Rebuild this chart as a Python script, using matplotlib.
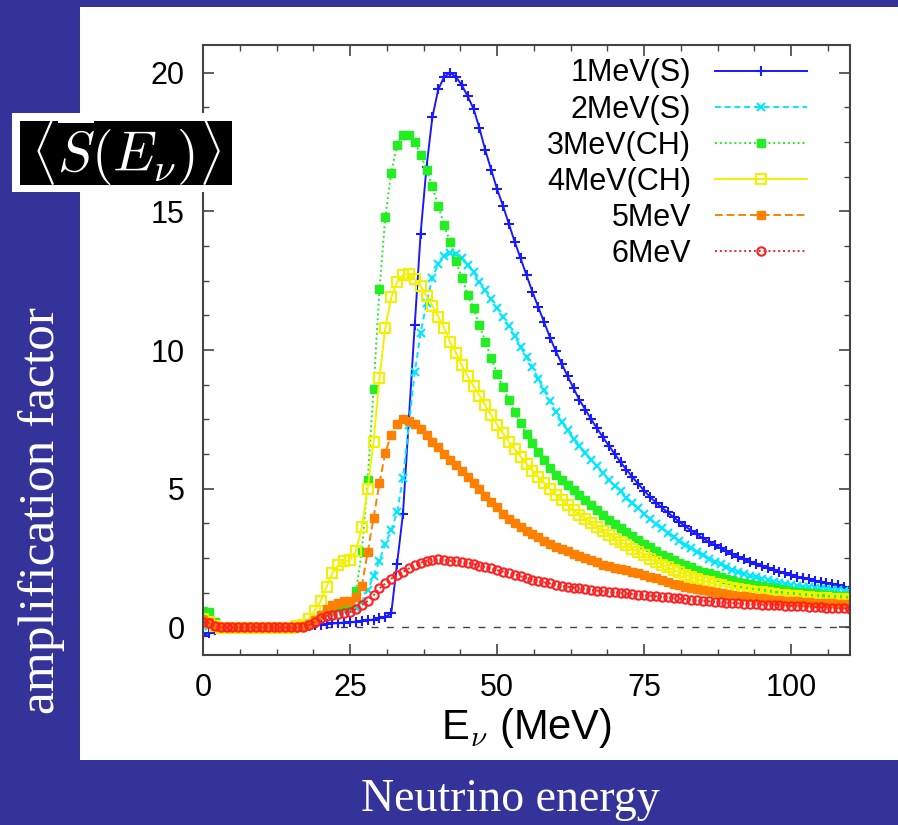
import numpy as np
import matplotlib
matplotlib.use("Agg")
import matplotlib.pyplot as plt
from matplotlib.patches import Rectangle
from matplotlib.ticker import MultipleLocator

# --- data (step 1 MeV, 0..110 MeV) ---
energy = np.arange(0, 111)

s_1mev = [-0.3, -0.2, -0.1, -0.05, -0.04, -0.03, -0.03, -0.03, -0.03, -0.03,
          -0.03, -0.03, -0.03, -0.03, -0.03, -0.02, -0.01, 0.0, 0.05, 0.08,
          0.1, 0.12, 0.14, 0.15, 0.17, 0.18, 0.2, 0.22, 0.25, 0.28,
          0.32, 0.38, 0.5, 2.3, 4.1, 7.5, 10.9, 14.2, 16.6, 18.4,
          19.4, 19.85, 20.0, 19.85, 19.55, 19.15, 18.7, 18.0, 17.2, 16.5,
          15.8, 15.2, 14.55, 13.9, 13.3, 12.7, 12.1, 11.55, 11.0, 10.45,
          9.95, 9.5, 9.05, 8.62, 8.2, 7.85, 7.5, 7.17, 6.85, 6.55,
          6.25, 5.95, 5.68, 5.42, 5.17, 4.93, 4.7, 4.5, 4.32, 4.14,
          3.97, 3.8, 3.64, 3.49, 3.35, 3.21, 3.08, 2.96, 2.85, 2.74,
          2.64, 2.54, 2.45, 2.36, 2.28, 2.2, 2.13, 2.06, 2.0, 1.94,
          1.88, 1.83, 1.78, 1.73, 1.68, 1.63, 1.59, 1.55, 1.51, 1.47, 1.43]

s_2mev = [0.1, 0.05, 0.0, -0.02, -0.02, -0.02, -0.02, -0.02, -0.02, -0.02,
          -0.02, -0.02, -0.02, -0.02, -0.02, -0.01, 0.0, 0.05, 0.15, 0.3,
          0.42, 0.5, 0.55, 0.58, 0.6, 0.62, 0.7, 0.9, 1.35, 1.85,
          2.4, 3.0, 3.5, 4.15, 5.4, 7.3, 9.2, 10.6, 11.7, 12.6,
          13.1, 13.4, 13.5, 13.45, 13.3, 13.05, 12.8, 12.45, 12.15, 11.85,
          11.5, 11.2, 10.85, 10.5, 10.1, 9.75, 9.4, 8.95, 8.55, 8.15,
          7.75, 7.4, 7.1, 6.8, 6.55, 6.3, 6.05, 5.8, 5.55, 5.32,
          5.1, 4.9, 4.68, 4.48, 4.3, 4.1, 3.92, 3.74, 3.57, 3.41,
          3.26, 3.12, 2.98, 2.85, 2.72, 2.6, 2.48, 2.37, 2.27, 2.17,
          2.08, 2.0, 1.93, 1.86, 1.8, 1.74, 1.69, 1.64, 1.6, 1.56,
          1.53, 1.5, 1.47, 1.44, 1.41, 1.39, 1.37, 1.35, 1.33, 1.31, 1.29]

s_3mev = [0.6, 0.55, 0.2, 0.0, -0.02, -0.02, -0.02, -0.02, -0.02, -0.02,
          -0.02, -0.02, -0.02, -0.02, -0.02, -0.01, 0.0, 0.05, 0.15, 0.3,
          0.45, 0.58, 0.66, 0.72, 0.76, 0.8, 1.3, 2.7, 5.3, 8.6,
          12.2, 14.8, 16.4, 17.4, 17.75, 17.75, 17.5, 17.05, 16.5, 15.9,
          15.2, 14.5, 13.9, 13.2, 12.6, 12.0, 11.5, 10.9, 10.3, 9.7,
          9.15, 8.65, 8.2, 7.75, 7.35, 6.98, 6.65, 6.32, 6.02, 5.75,
          5.5, 5.3, 5.12, 4.94, 4.76, 4.58, 4.4, 4.22, 4.05, 3.88,
          3.72, 3.57, 3.42, 3.28, 3.15, 3.02, 2.88, 2.75, 2.62, 2.52,
          2.42, 2.33, 2.24, 2.16, 2.08, 2.01, 1.94, 1.87, 1.81, 1.75,
          1.7, 1.65, 1.6, 1.56, 1.52, 1.48, 1.44, 1.41, 1.38, 1.35,
          1.32, 1.29, 1.27, 1.24, 1.22, 1.2, 1.18, 1.16, 1.14, 1.13, 1.11]

s_4mev = [0.3, 0.2, 0.05, -0.03, -0.03, -0.03, -0.03, -0.03, -0.03, -0.03,
          -0.03, -0.03, -0.03, -0.03, -0.03, -0.01, 0.03, 0.1, 0.3, 0.6,
          0.95, 1.45, 1.95, 2.25, 2.38, 2.42, 2.75, 3.6, 5.0, 6.7,
          9.0, 10.8, 11.9, 12.45, 12.7, 12.75, 12.55, 12.3, 11.95, 11.6,
          11.2, 10.8, 10.3, 9.9, 9.45, 9.05, 8.7, 8.35, 8.0, 7.65,
          7.3, 7.0, 6.7, 6.42, 6.15, 5.9, 5.65, 5.42, 5.2, 4.98,
          4.78, 4.58, 4.4, 4.22, 4.06, 3.9, 3.75, 3.6, 3.46, 3.33,
          3.2, 3.08, 2.96, 2.84, 2.72, 2.6, 2.48, 2.37, 2.26, 2.16,
          2.07, 1.98, 1.9, 1.82, 1.75, 1.68, 1.62, 1.57, 1.52, 1.47,
          1.43, 1.39, 1.35, 1.32, 1.29, 1.26, 1.23, 1.2, 1.18, 1.16,
          1.14, 1.12, 1.1, 1.08, 1.06, 1.05, 1.04, 1.03, 1.02, 1.01, 1.0]

s_5mev = [0.25, 0.2, 0.05, 0.0, 0.0, 0.0, 0.0, 0.0, 0.0, 0.0,
          0.0, 0.0, 0.0, 0.0, 0.0, 0.0, 0.01, 0.05, 0.12, 0.25,
          0.45, 0.65, 0.8, 0.88, 0.93, 0.95, 1.1, 1.5, 2.7, 3.95,
          5.2, 6.3, 6.95, 7.33, 7.5, 7.45, 7.33, 7.15, 6.92, 6.7,
          6.5, 6.25, 6.05, 5.85, 5.65, 5.42, 5.2, 4.98, 4.75, 4.53,
          4.32, 4.1, 3.9, 3.75, 3.62, 3.49, 3.36, 3.24, 3.12, 3.01,
          2.91, 2.82, 2.74, 2.66, 2.58, 2.5, 2.42, 2.34, 2.26, 2.2,
          2.15, 2.1, 2.05, 2.0, 1.95, 1.9, 1.83, 1.76, 1.69, 1.63,
          1.57, 1.52, 1.47, 1.42, 1.38, 1.34, 1.3, 1.26, 1.23, 1.2,
          1.17, 1.14, 1.11, 1.08, 1.06, 1.04, 1.02, 1.0, 0.98, 0.96,
          0.95, 0.93, 0.92, 0.9, 0.89, 0.88, 0.87, 0.86, 0.85, 0.84, 0.83]

s_6mev = [0.2, 0.15, 0.05, 0.0, 0.0, 0.0, 0.0, 0.0, 0.0, 0.0,
          0.0, 0.0, 0.0, 0.0, 0.0, 0.0, 0.0, 0.02, 0.08, 0.2,
          0.35, 0.42, 0.46, 0.48, 0.5, 0.55, 0.65, 0.8, 0.95, 1.15,
          1.4, 1.58, 1.75, 1.87, 2.0, 2.12, 2.24, 2.33, 2.4, 2.44,
          2.45, 2.42, 2.4, 2.38, 2.36, 2.33, 2.28, 2.22, 2.17, 2.12,
          2.06, 2.01, 1.96, 1.9, 1.84, 1.78, 1.72, 1.67, 1.62, 1.58,
          1.54, 1.5, 1.46, 1.43, 1.4, 1.37, 1.34, 1.32, 1.3, 1.28,
          1.26, 1.24, 1.22, 1.2, 1.18, 1.16, 1.14, 1.12, 1.1, 1.08,
          1.06, 1.04, 1.02, 1.0, 0.98, 0.96, 0.94, 0.92, 0.9, 0.89,
          0.88, 0.86, 0.85, 0.84, 0.83, 0.82, 0.81, 0.8, 0.79, 0.78,
          0.77, 0.76, 0.75, 0.74, 0.73, 0.72, 0.71, 0.7, 0.69, 0.68, 0.67]

labels = ["1MeV(S)", "2MeV(S)", "3MeV(CH)", "4MeV(CH)", "5MeV", "6MeV"]
series = [s_1mev, s_2mev, s_3mev, s_4mev, s_5mev, s_6mev]

# --- styles (gnuplot-like) ---
STYLES = [
    dict(color="#1a1aff", ls="-", marker="+", ms=7, mew=1.5),
    dict(color="#00e8ff", ls=(0, (3, 2)), marker="x", ms=6, mew=1.5),
    dict(color="#22ee22", ls=(0, (1, 1.5)), marker="s", ms=5.5, mew=1.0),
    dict(color="#f2f200", ls="-", marker="s", ms=6.5, mew=1.5, mfc="none"),
    dict(color="#ff8000", ls=(0, (4, 2)), marker="s", ms=5.5, mew=1.0),
    dict(color="#ff2020", ls=(0, (1, 1.5)), marker="o", ms=6, mew=1.5, mfc="none"),
]

NAVY = "#333399"
SANS = "Liberation Sans"
SERIF = "Liberation Serif"
plt.rcParams.update({"font.family": SANS, "mathtext.fontset": "cm"})

fig = plt.figure(figsize=(8.98, 8.25), dpi=100, facecolor=NAVY)
# white slide panel
fig.add_artist(Rectangle((80/898, 65/825), 818/898, 753/825, transform=fig.transFigure,
                         facecolor="white", edgecolor="none", zorder=0))

ax = fig.add_axes([203/898, 170/825, 647/898, 610/825])
ax.axhline(0, color="#444444", lw=1.0, ls=(0, (5, 6)), zorder=1)
for lab, ys, st in zip(labels, series, STYLES):
    ax.plot(energy, ys, label=lab, lw=1.4, color=st["color"], ls=st["ls"],
            marker=st["marker"], ms=st["ms"], mew=st["mew"],
            mfc=st.get("mfc", st["color"]), mec=st["color"], zorder=2)

ax.set_xlim(0, 110)
ax.set_ylim(-1, 21)
ax.xaxis.set_major_locator(MultipleLocator(25))
ax.xaxis.set_minor_locator(MultipleLocator(6.25))
ax.yaxis.set_major_locator(MultipleLocator(5))
ax.yaxis.set_minor_locator(MultipleLocator(1.25))
ax.tick_params(which="both", direction="in", top=True, right=True, color="#444444")
ax.tick_params(which="major", length=8, width=1.2, labelsize=22, pad=13)
ax.tick_params(which="minor", length=4, width=1.0)
for sp in ax.spines.values():
    sp.set_color("#444444"); sp.set_linewidth(1.5)
ax.set_xlabel(r"E$_\nu$ (MeV)", fontsize=30, labelpad=2)

ax.legend(loc="upper right", bbox_to_anchor=(0.9335, 0.978), markerfirst=False,
          frameon=False, fontsize=22, handlelength=3.0, handletextpad=0.8,
          labelspacing=0.2, borderpad=0, borderaxespad=0)

# slide decorations
fig.add_artist(Rectangle((12/898, 633/825), 228/898, 79/825, transform=fig.transFigure,
                         facecolor="white", edgecolor="none", zorder=3))
fig.add_artist(Rectangle((20/898, 640/825), 212/898, 64/825, transform=fig.transFigure,
                         facecolor="black", edgecolor="none", zorder=4))
fig.text(126/898, 673/825, r"$\langle \overline{S}(E_\nu)\rangle$", color="white",
         fontsize=40, ha="center", va="center", zorder=5)
fig.text(42/898, 314/825, "amplification factor", color="white", family=SERIF,
         fontsize=37, rotation=90, ha="center", va="center")
fig.text(510/898, 25/825, "Neutrino energy", color="white", family=SERIF,
         fontsize=33, ha="center", va="center")

fig.savefig("out.png", dpi=100, facecolor=fig.get_facecolor())
